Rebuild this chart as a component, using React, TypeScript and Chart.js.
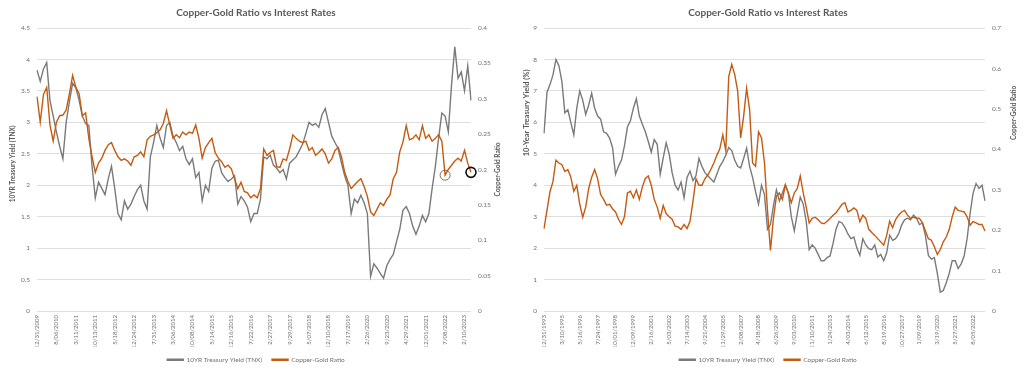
import React, { useEffect, useRef } from 'react';
import { Chart, registerables } from 'chart.js';

Chart.register(...registerables);
Chart.defaults.font.family = 'Lato, "Open Sans", sans-serif';

// ---------- text ----------
const TITLE = 'Copper-Gold Ratio vs Interest Rates';
const SERIES_TNX = '10YR Treasury Yield (TNX)';
const SERIES_CG = 'Copper-Gold Ratio';
const LEFT_Y_TITLE = '10YR Treasury Yield (TNX)';
const RIGHT_Y_TITLE = '10-Year Treasury Yield (%)';
const CG_AXIS_TITLE = 'Copper-Gold Ratio';

// points between two consecutive date labels
const PER_TICK = 6;

// ---------- chart 1 (2009 - 2023) ----------
const ticks1 = [
  '12/31/2009', '8/06/2010', '3/11/2011', '10/13/2011', '5/18/2012', '12/24/2012',
  '7/31/2013', '3/06/2014', '10/08/2014', '5/14/2015', '12/16/2015', '7/22/2016',
  '2/27/2017', '9/29/2017', '5/07/2018', '12/10/2018', '7/17/2019', '2/26/2020',
  '9/23/2020', '4/29/2021', '12/01/2021', '7/08/2022', '2/10/2023',
];

const tnx1 = [
  3.83, 3.65, 3.85, 3.95, 3.35, 3.1, 2.85, 2.62, 2.42, 3.0,
  3.33, 3.62, 3.55, 3.35, 3.1, 2.98, 2.95, 2.3, 1.8, 2.05,
  1.95, 1.85, 2.1, 2.3, 1.95, 1.55, 1.45, 1.75, 1.62, 1.7,
  1.82, 1.93, 2.0, 1.75, 1.62, 2.45, 2.68, 2.95, 2.75, 2.6,
  2.95, 3.0, 2.78, 2.68, 2.55, 2.62, 2.42, 2.33, 2.42, 2.12,
  2.2, 1.75, 2.0, 1.9, 2.27, 2.38, 2.4, 2.2, 2.12, 2.06,
  2.1, 2.15, 1.7, 1.82, 1.75, 1.65, 1.42, 1.55, 1.55, 1.78,
  2.45, 2.42, 2.48, 2.32, 2.27, 2.2, 2.25, 2.1, 2.35, 2.4,
  2.45, 2.55, 2.65, 2.82, 3.0, 2.95, 2.98, 2.92, 3.12, 3.22,
  3.0, 2.78, 2.68, 2.58, 2.35, 2.15, 2.0, 1.55, 1.78, 1.72,
  1.84, 1.72, 1.55, 0.55, 0.75, 0.68, 0.6, 0.52, 0.72, 0.82,
  0.9, 1.1, 1.3, 1.6, 1.66, 1.55, 1.35, 1.22, 1.35, 1.52,
  1.42, 1.55, 1.95, 2.3, 2.75, 3.15, 3.1, 2.85, 3.6, 4.2,
  3.7, 3.8, 3.5, 3.9, 3.35,
];

const cg1 = [
  0.303, 0.267, 0.306, 0.316, 0.263, 0.24, 0.267, 0.276, 0.277, 0.284,
  0.307, 0.333, 0.316, 0.307, 0.276, 0.28, 0.244, 0.218, 0.196, 0.209,
  0.216, 0.227, 0.235, 0.238, 0.227, 0.218, 0.213, 0.215, 0.212, 0.206,
  0.218, 0.22, 0.225, 0.218, 0.242, 0.247, 0.249, 0.252, 0.256, 0.265,
  0.283, 0.263, 0.244, 0.249, 0.245, 0.253, 0.249, 0.253, 0.251, 0.263,
  0.244, 0.216, 0.231, 0.238, 0.244, 0.224, 0.216, 0.211, 0.203, 0.206,
  0.201, 0.187, 0.173, 0.182, 0.169, 0.167, 0.16, 0.164, 0.16, 0.173,
  0.229, 0.22, 0.224, 0.227, 0.204, 0.203, 0.215, 0.213, 0.229, 0.249,
  0.244, 0.24, 0.238, 0.24, 0.227, 0.231, 0.22, 0.224, 0.229, 0.222,
  0.209, 0.215, 0.227, 0.231, 0.218, 0.196, 0.183, 0.173, 0.178, 0.183,
  0.187, 0.176, 0.162, 0.14, 0.135, 0.144, 0.153, 0.149, 0.158, 0.164,
  0.187, 0.196, 0.225, 0.239, 0.262, 0.242, 0.244, 0.249, 0.242, 0.262,
  0.244, 0.249, 0.24, 0.244, 0.249, 0.24, 0.192, 0.2, 0.206, 0.212,
  0.216, 0.212, 0.227, 0.209, 0.196,
];

// points circled on the copper-gold line
const circled1 = [126, 134];

// ---------- chart 2 (1993 - 2023) ----------
const ticks2 = [
  '12/31/1993', '3/10/1995', '5/16/1996', '7/24/1997', '10/01/1998', '12/09/1999',
  '2/16/2001', '5/03/2002', '7/14/2003', '9/21/2004', '11/29/2005', '2/08/2007',
  '4/18/2008', '6/26/2009', '9/03/2010', '11/10/2011', '1/24/2013', '4/03/2014',
  '6/12/2015', '8/19/2016', '10/27/2017', '1/09/2019', '3/19/2020', '5/27/2021',
  '8/05/2022',
];

const tnx2 = [
  5.65, 6.95, 7.2, 7.5, 8.0, 7.8, 7.3, 6.3, 6.4, 6.0,
  5.6, 6.45, 7.0, 6.7, 6.25, 6.55, 6.93, 6.45, 6.2, 6.1,
  5.7, 5.65, 5.5, 5.2, 4.35, 4.6, 4.8, 5.25, 5.85, 6.05,
  6.45, 6.75, 6.2, 5.95, 5.7, 5.39, 5.05, 5.45, 5.3, 4.35,
  4.86, 5.35, 5.0, 4.4, 4.0, 3.85, 4.1, 3.6, 4.25, 4.45,
  4.15, 4.3, 4.85, 4.6, 4.4, 4.3, 4.2, 4.1, 4.35, 4.6,
  4.75, 4.95, 5.2, 5.1, 4.8, 4.6, 4.55, 4.85, 5.18, 4.6,
  4.25, 3.8, 3.4, 4.0, 3.7, 2.6, 2.75, 3.35, 3.85, 3.5,
  3.75, 4.02, 3.75, 3.0, 2.55, 3.1, 3.62, 3.4, 2.85, 1.95,
  2.1, 2.0, 1.8, 1.6, 1.6, 1.7, 1.75, 2.15, 2.6, 2.85,
  2.8, 2.65, 2.45, 2.3, 2.35, 2.0, 1.77, 2.3, 2.1, 1.98,
  1.95, 2.1, 1.72, 1.8, 1.6, 1.85, 2.41, 2.25, 2.3, 2.45,
  2.73, 2.9, 2.95, 2.9, 3.05, 2.95, 2.75, 2.8, 2.4, 1.77,
  1.65, 1.7, 1.2, 0.6, 0.65, 0.9, 1.2, 1.6, 1.6, 1.35,
  1.5, 1.75, 2.3, 3.1, 3.75, 4.05, 3.9, 4.0, 3.5,
];

const cg2 = [
  0.204, 0.249, 0.295, 0.32, 0.373, 0.366, 0.362, 0.345, 0.35, 0.331,
  0.296, 0.311, 0.264, 0.232, 0.257, 0.303, 0.331, 0.35, 0.327, 0.288,
  0.276, 0.262, 0.264, 0.253, 0.245, 0.227, 0.214, 0.233, 0.292, 0.296,
  0.28, 0.299, 0.276, 0.307, 0.328, 0.334, 0.311, 0.276, 0.257, 0.229,
  0.261, 0.241, 0.233, 0.227, 0.21, 0.208, 0.202, 0.214, 0.204, 0.222,
  0.272, 0.327, 0.311, 0.311, 0.327, 0.337, 0.35, 0.366, 0.385, 0.401,
  0.436, 0.397, 0.58, 0.61, 0.585, 0.544, 0.428, 0.482, 0.551, 0.498,
  0.366, 0.358, 0.443, 0.428, 0.366, 0.249, 0.15, 0.229, 0.284, 0.292,
  0.276, 0.311, 0.292, 0.268, 0.292, 0.303, 0.334, 0.292, 0.257, 0.218,
  0.229, 0.232, 0.226, 0.218, 0.216, 0.222, 0.229, 0.237, 0.243, 0.253,
  0.264, 0.268, 0.245, 0.249, 0.255, 0.249, 0.221, 0.237, 0.229, 0.202,
  0.194, 0.187, 0.179, 0.171, 0.163, 0.187, 0.222, 0.206, 0.226, 0.237,
  0.245, 0.249, 0.237, 0.229, 0.232, 0.23, 0.229, 0.218, 0.198, 0.179,
  0.175, 0.159, 0.14, 0.152, 0.171, 0.183, 0.202, 0.233, 0.257, 0.249,
  0.247, 0.245, 0.233, 0.212, 0.221, 0.218, 0.214, 0.214, 0.198,
];

const circled2: number[] = [];

// ---------- styles ----------
const GRAY = '#7a7a7a';
const ORANGE = '#c55a11';
const TEXT = '#595959';
const TICK = '#6f6f6f';
const GRID = '#dedede';

type AxisTitle = { text: string; side: 'left' | 'right'; gap: number; frac: number; size: number };

const axisTitlesPlugin = {
  id: 'axisTitles',
  afterDraw(chart: any, _args: any, opts: any) {
    const items: AxisTitle[] = (opts && opts.items) || [];
    const { ctx, chartArea } = chart;
    items.forEach((it) => {
      ctx.save();
      ctx.font = `bold ${it.size}px Lato, "Open Sans", sans-serif`;
      ctx.fillStyle = TEXT;
      const x = it.side === 'left' ? chartArea.left - it.gap : chartArea.right + it.gap;
      const y = chartArea.top + (chartArea.bottom - chartArea.top) * it.frac;
      ctx.translate(x, y);
      ctx.rotate(-Math.PI / 2);
      ctx.textAlign = 'center';
      ctx.textBaseline = 'middle';
      ctx.fillText(it.text, 0, 0);
      ctx.restore();
    });
  },
};

type PanelSpec = {
  ticks: string[];
  tnx: number[];
  cg: number[];
  circled: number[];
  yMax: number;
  yStep: number;
  y1Max: number;
  y1Step: number;
  leftW: number;
  rightW: number;
  titles: AxisTitle[];
};

const plainNumber = (v: any) => String(Number(Number(v).toFixed(3)));

function buildConfig(p: PanelSpec): any {
  const labels = p.tnx.map((_, i) =>
    i % PER_TICK === 0 && p.ticks[i / PER_TICK] !== undefined ? p.ticks[i / PER_TICK] : ''
  );
  const datasets: any[] = [
    {
      label: SERIES_TNX,
      data: p.tnx,
      yAxisID: 'y',
      borderColor: GRAY,
      backgroundColor: GRAY,
      borderWidth: 1.4,
      pointRadius: 0,
      order: 2,
    },
    {
      label: SERIES_CG,
      data: p.cg,
      yAxisID: 'y1',
      borderColor: ORANGE,
      backgroundColor: ORANGE,
      borderWidth: 1.4,
      pointRadius: 0,
      order: 1,
    },
  ];
  if (p.circled.length) {
    const last = p.circled[p.circled.length - 1];
    datasets.push({
      label: 'circled',
      data: p.cg.map((v, i) => (p.circled.includes(i) ? v : null)),
      yAxisID: 'y1',
      showLine: false,
      pointRadius: 5,
      pointBorderWidth: (c: any) => (c.dataIndex === last ? 1.6 : 0.9),
      pointBorderColor: (c: any) => (c.dataIndex === last ? '#111111' : '#666666'),
      pointBackgroundColor: 'rgba(0,0,0,0)',
      order: 0,
    });
  }
  const tickFont = { size: 6.5 };
  return {
    type: 'line',
    data: { labels, datasets },
    plugins: [axisTitlesPlugin],
    options: {
      responsive: false,
      animation: false,
      devicePixelRatio: 1,
      events: [],
      layout: { padding: 0 },
      elements: { line: { tension: 0 }, point: { radius: 0 } },
      scales: {
        x: {
          type: 'category',
          grid: { display: false, drawTicks: false },
          border: { display: false },
          ticks: {
            autoSkip: false,
            maxRotation: 90,
            minRotation: 90,
            padding: 4,
            color: TICK,
            font: { size: 6 },
          },
          afterFit: (s: any) => {
            s.height = 35.5;
          },
        },
        y: {
          position: 'left',
          min: 0,
          max: p.yMax,
          ticks: { stepSize: p.yStep, padding: 7, color: TICK, font: tickFont, callback: plainNumber },
          grid: { color: GRID, lineWidth: 1, drawTicks: false },
          border: { display: false },
          afterFit: (s: any) => {
            s.width = p.leftW;
          },
        },
        y1: {
          position: 'right',
          min: 0,
          max: p.y1Max,
          ticks: { stepSize: p.y1Step, padding: 7, color: TICK, font: tickFont, callback: plainNumber },
          grid: { display: false, drawTicks: false },
          border: { display: false },
          afterFit: (s: any) => {
            s.width = p.rightW;
          },
        },
      },
      plugins: {
        title: {
          display: true,
          text: TITLE,
          color: TEXT,
          font: { size: 10, weight: 'bold' },
          padding: { top: 7, bottom: 9 },
        },
        legend: {
          position: 'bottom',
          labels: {
            boxWidth: 16,
            boxHeight: 1,
            padding: 10,
            color: TICK,
            font: { size: 6.5 },
            filter: (item: any) => item.datasetIndex < 2,
            sort: (a: any, b: any) => a.datasetIndex - b.datasetIndex,
          },
        },
        tooltip: { enabled: false },
        axisTitles: { items: p.titles },
      },
    },
  };
}

const spec1: PanelSpec = {
  ticks: ticks1,
  tnx: tnx1,
  cg: cg1,
  circled: circled1,
  yMax: 4.5,
  yStep: 0.5,
  y1Max: 0.4,
  y1Step: 0.05,
  leftW: 37,
  rightW: 41,
  titles: [
    { text: LEFT_Y_TITLE, side: 'left', gap: 24, frac: 0.48, size: 6.5 },
    { text: CG_AXIS_TITLE, side: 'right', gap: 27, frac: 0.5, size: 6.5 },
  ],
};

const spec2: PanelSpec = {
  ticks: ticks2,
  tnx: tnx2,
  cg: cg2,
  circled: circled2,
  yMax: 9,
  yStep: 1,
  y1Max: 0.7,
  y1Step: 0.1,
  leftW: 32,
  rightW: 39,
  titles: [
    { text: RIGHT_Y_TITLE, side: 'left', gap: 17, frac: 0.3, size: 7.5 },
    { text: CG_AXIS_TITLE, side: 'right', gap: 29, frac: 0.3, size: 6.5 },
  ],
};

function Panel({ spec, left }: { spec: PanelSpec; left: number }) {
  const ref = useRef<HTMLCanvasElement>(null);
  useEffect(() => {
    if (!ref.current) return;
    const chart = new Chart(ref.current, buildConfig(spec));
    return () => chart.destroy();
  }, [spec]);
  return (
    <canvas
      ref={ref}
      width={512}
      height={373}
      style={{ position: 'absolute', left, top: 0, width: 512, height: 373 }}
    />
  );
}

export default function App() {
  return (
    <div
      style={{
        position: 'absolute',
        left: 0,
        top: 0,
        width: 1024,
        height: 373,
        background: '#ffffff',
        overflow: 'hidden',
      }}
    >
      <Panel spec={spec1} left={0} />
      <Panel spec={spec2} left={512} />
    </div>
  );
}
